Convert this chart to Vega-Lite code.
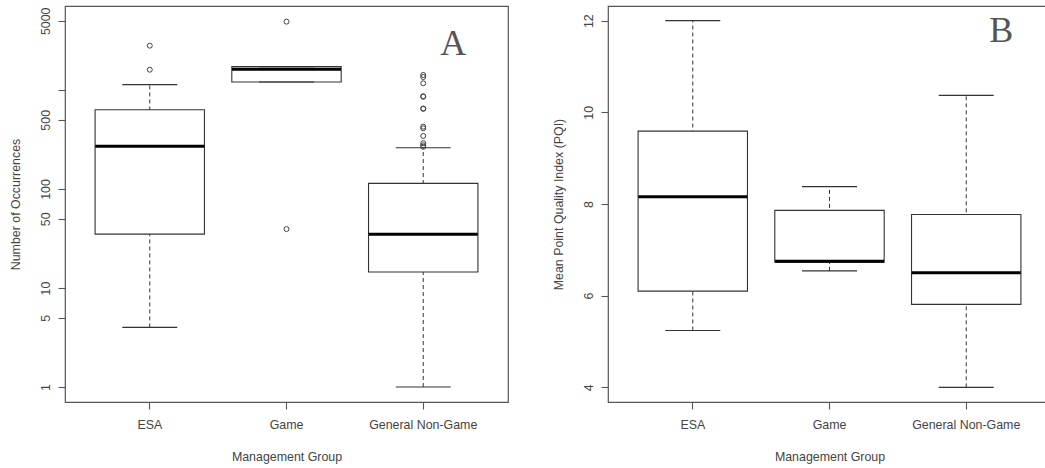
{
  "$schema": "https://vega.github.io/schema/vega-lite/v6.json",
  "padding": {"left": 8, "top": 5, "right": 0, "bottom": 0},
  "background": "white",
  "bounds": "flush",
  "spacing": 100,
  "config": {
    "view": {"stroke": "#555", "strokeWidth": 1.2},
    "tick": {"opacity": 1},
    "axis": {
      "grid": false, "domain": false, "tickColor": "#555", "tickSize": 7, "tickWidth": 1.1,
      "labelFont": "Liberation Sans", "titleFont": "Liberation Sans",
      "labelFontSize": 12.4, "titleFontSize": 12.4,
      "labelColor": "#444", "titleColor": "#444", "titleFontWeight": "normal",
      "labelOverlap": false
    },
    "axisY": {"labelAngle": -90, "labelAlign": "center", "labelBaseline": "alphabetic", "labelPadding": 9, "titlePadding": 17},
    "axisX": {"labelAngle": 0, "labelPadding": 9, "titlePadding": 20}
  },
  "datasets": {
    "boxA": [
      {"group": "ESA", "lower": 4, "q1": 35, "median": 270, "q3": 632, "upper": 1132},
      {"group": "Game", "lower": 1205, "q1": 1205, "median": 1620, "q3": 1721, "upper": 1721},
      {"group": "General Non-Game", "lower": 1, "q1": 14.5, "median": 35, "q3": 114, "upper": 261}
    ],
    "outA": [
      {"group": "ESA", "value": 2803},
      {"group": "ESA", "value": 1603},
      {"group": "Game", "value": 4900},
      {"group": "Game", "value": 39.4},
      {"group": "General Non-Game", "value": 1418},
      {"group": "General Non-Game", "value": 1353},
      {"group": "General Non-Game", "value": 1169},
      {"group": "General Non-Game", "value": 865},
      {"group": "General Non-Game", "value": 855},
      {"group": "General Non-Game", "value": 650},
      {"group": "General Non-Game", "value": 645},
      {"group": "General Non-Game", "value": 426},
      {"group": "General Non-Game", "value": 410},
      {"group": "General Non-Game", "value": 343},
      {"group": "General Non-Game", "value": 290},
      {"group": "General Non-Game", "value": 276},
      {"group": "General Non-Game", "value": 267}
    ],
    "boxB": [
      {"group": "ESA", "lower": 5.24, "q1": 6.10, "median": 8.16, "q3": 9.59, "upper": 12.0},
      {"group": "Game", "lower": 6.54, "q1": 6.73, "median": 6.75, "q3": 7.86, "upper": 8.38},
      {"group": "General Non-Game", "lower": 4.0, "q1": 5.81, "median": 6.50, "q3": 7.77, "upper": 10.37}
    ],
    "letterA": [{"group": "General Non-Game", "y": 2257, "label": "A"}],
    "letterB": [{"group": "General Non-Game", "y": 11.53, "label": "B"}]
  },
  "hconcat": [
    {
      "width": 443,
      "height": 396,
      "encoding": {
        "x": {
          "field": "group", "type": "nominal", "sort": ["ESA", "Game", "General Non-Game"],
          "scale": {"paddingInner": 0.2, "paddingOuter": 0.22},
          "title": "Management Group"
        }
      },
      "layer": [
        {
          "data": {"name": "boxA"},
          "mark": {"type": "rule", "color": "#333", "strokeWidth": 1, "strokeDash": [4, 3]},
          "encoding": {
            "y": {"field": "lower", "type": "quantitative",
                  "scale": {"type": "log", "domain": [0.706, 7050], "nice": false},
                  "axis": {"values": [1, 5, 10, 50, 100, 500, 1000, 5000], "format": "d",
                           "labelExpr": "datum.value == 1000 ? '' : datum.label"},
                  "title": "Number of Occurrences"},
            "y2": {"field": "upper"}
          }
        },
        {
          "data": {"name": "boxA"},
          "mark": {"type": "bar", "fill": "white", "stroke": "#333", "strokeWidth": 1.1},
          "encoding": {"y": {"field": "q1", "type": "quantitative"}, "y2": {"field": "q3"}}
        },
        {
          "data": {"name": "boxA"},
          "mark": {"type": "tick", "color": "#333", "size": 55, "thickness": 1.1, "opacity": 1},
          "encoding": {"y": {"field": "lower", "type": "quantitative"}}
        },
        {
          "data": {"name": "boxA"},
          "mark": {"type": "tick", "color": "#333", "size": 55, "thickness": 1.1, "opacity": 1},
          "encoding": {"y": {"field": "upper", "type": "quantitative"}}
        },
        {
          "data": {"name": "boxA"},
          "mark": {"type": "tick", "color": "#000", "size": 109, "thickness": 3, "opacity": 1},
          "encoding": {"y": {"field": "median", "type": "quantitative"}}
        },
        {
          "data": {"name": "outA"},
          "mark": {"type": "point", "shape": "circle", "size": 25, "stroke": "#444", "strokeWidth": 1, "filled": false, "opacity": 1},
          "encoding": {"y": {"field": "value", "type": "quantitative"}}
        },
        {
          "data": {"name": "letterA"},
          "mark": {"type": "text", "font": "Liberation Serif", "fontSize": 36, "color": "#555", "baseline": "alphabetic", "align": "center", "dx": 30},
          "encoding": {"y": {"field": "y", "type": "quantitative"}, "text": {"field": "label"}}
        }
      ]
    },
    {
      "width": 443,
      "height": 396,
      "encoding": {
        "x": {
          "field": "group", "type": "nominal", "sort": ["ESA", "Game", "General Non-Game"],
          "scale": {"paddingInner": 0.2, "paddingOuter": 0.22},
          "title": "Management Group"
        }
      },
      "layer": [
        {
          "data": {"name": "boxB"},
          "mark": {"type": "rule", "color": "#333", "strokeWidth": 1, "strokeDash": [4, 3]},
          "encoding": {
            "y": {"field": "lower", "type": "quantitative",
                  "scale": {"domain": [3.68, 12.32], "nice": false, "zero": false},
                  "axis": {"values": [4, 6, 8, 10, 12]},
                  "title": "Mean Point Quality Index (PQI)"},
            "y2": {"field": "upper"}
          }
        },
        {
          "data": {"name": "boxB"},
          "mark": {"type": "bar", "fill": "white", "stroke": "#333", "strokeWidth": 1.1},
          "encoding": {"y": {"field": "q1", "type": "quantitative"}, "y2": {"field": "q3"}}
        },
        {
          "data": {"name": "boxB"},
          "mark": {"type": "tick", "color": "#333", "size": 55, "thickness": 1.1, "opacity": 1},
          "encoding": {"y": {"field": "lower", "type": "quantitative"}}
        },
        {
          "data": {"name": "boxB"},
          "mark": {"type": "tick", "color": "#333", "size": 55, "thickness": 1.1, "opacity": 1},
          "encoding": {"y": {"field": "upper", "type": "quantitative"}}
        },
        {
          "data": {"name": "boxB"},
          "mark": {"type": "tick", "color": "#000", "size": 109, "thickness": 3, "opacity": 1},
          "encoding": {"y": {"field": "median", "type": "quantitative"}}
        },
        {
          "data": {"name": "letterB"},
          "mark": {"type": "text", "font": "Liberation Serif", "fontSize": 36, "color": "#555", "baseline": "alphabetic", "align": "center", "dx": 35},
          "encoding": {"y": {"field": "y", "type": "quantitative"}, "text": {"field": "label"}}
        }
      ]
    }
  ]
}
